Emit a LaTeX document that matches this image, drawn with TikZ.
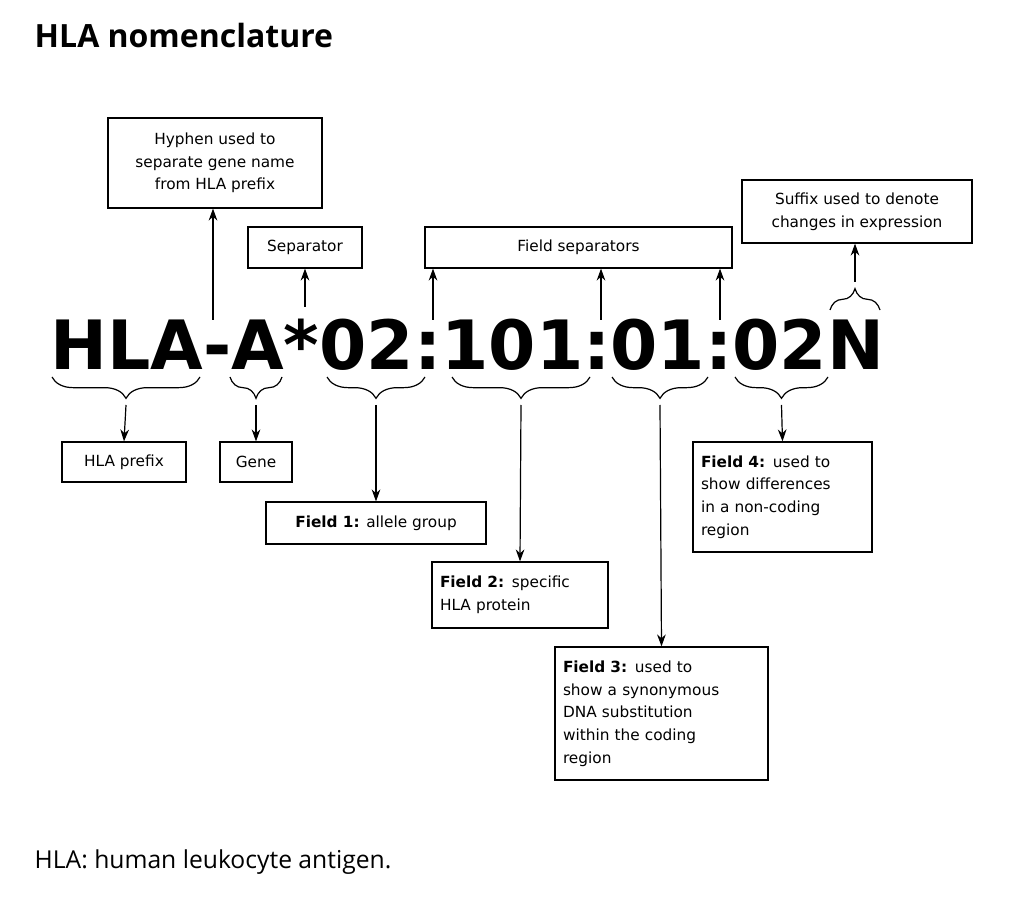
\documentclass[tikz,border=0pt]{standalone}
\usepackage{fontspec}
\setmainfont{DejaVu Sans}
\newfontfamily\opensans{Open Sans}
\usetikzlibrary{decorations.pathreplacing,arrows.meta}
\begin{document}
\begin{tikzpicture}[x=0.75pt,y=-0.75pt,
  box/.style={draw,line width=0.9pt,font=\fontsize{11.5}{17}\selectfont,inner sep=3pt},
  lbox/.style={box,align=left,inner xsep=6pt},
  cbox/.style={box,align=center},
  arr/.style={-{Stealth[length=9pt,width=6.5pt]},line width=0.9pt},
  br/.style={decorate,decoration={brace,amplitude=16pt},line width=0.9pt}]
\useasboundingbox (0,0) rectangle (1025,905);
\node[anchor=base west,font=\opensans\bfseries\fontsize{24}{28}\selectfont] (title) at (30,48) {HLA nomenclature};
\node[anchor=base west,font=\opensans\fontsize{18.5}{22}\selectfont] (cap) at (30,868) {HLA: human leukocyte antigen.};
\node[anchor=base west,inner sep=0,font=\bfseries\fontsize{51}{60}\selectfont] (code) at (50,370) {HLA-A*02:101:01:02N};
% boxes
\node[cbox,minimum width=160.5pt,minimum height=67.5pt] (hyph) at (215,163) {Hyphen used to\\separate gene name\\from HLA prefix};
\node[cbox,minimum width=85.5pt,minimum height=30.75pt] (sep) at (305,247.5) {Separator};
\node[cbox,minimum width=230.25pt,minimum height=30.75pt] (fsep) at (578.5,247.5) {Field separators};
\node[cbox,minimum width=172.5pt,minimum height=47.25pt] (suf) at (857,211.5) {Suffix used to denote\\changes in expression};
\node[cbox,minimum width=93pt,minimum height=30pt] (pre) at (124,462) {HLA prefix};
\node[cbox,minimum width=54pt,minimum height=30pt] (gene) at (256,462) {Gene};
\node[cbox,minimum width=165pt,minimum height=31.5pt] (f1) at (376,523) {\textbf{Field 1:} allele group};
\node[lbox,text width=120pt,minimum height=49.5pt] (f2) at (520,595) {\textbf{Field 2:} specific\\HLA protein};
\node[lbox,text width=147.75pt,minimum height=99.75pt] (f3) at (661.5,713.5) {\textbf{Field 3:} used to\\show a synonymous\\DNA substitution\\within the coding\\region};
\node[lbox,text width=122.25pt,minimum height=82.5pt] (f4) at (782.5,497) {\textbf{Field 4:} used to\\show differences\\in a non-coding\\region};
% braces below
\draw[br] (200,377) -- (52,377) coordinate[midway,yshift=-21pt] (b1);
\draw[br] (282,377) -- (230,377) coordinate[midway,yshift=-21pt] (b2);
\draw[br] (425,377) -- (327,377) coordinate[midway,yshift=-21pt] (b3);
\draw[br] (590,377) -- (452,377) coordinate[midway,yshift=-21pt] (b4);
\draw[br] (708,377) -- (612,377) coordinate[midway,yshift=-21pt] (b5);
\draw[br] (828,377) -- (735,377) coordinate[midway,yshift=-21pt] (b6);
\draw[br] (830,310) -- (880,310) coordinate[midway,yshift=21pt] (b7);
\draw[arr] (b1) -- (pre.north);
\draw[arr] (b2) -- (gene.north);
\draw[arr] (b3) -- (f1.north);
\draw[arr] (b4) -- (f2.north);
\draw[arr] (b5) -- (f3.north);
\draw[arr] (b6) -- (f4.north);
\draw[arr] (b7) -- (suf.south -| b7);
% separator arrows
\coordinate (hy) at (213,320);
\coordinate (st) at (305,307);
\coordinate (c1) at (433,320);
\coordinate (c2) at (601,320);
\coordinate (c3) at (720,320);
\draw[arr] (hy) -- (hyph.south -| hy);
\draw[arr] (st) -- (sep.south -| st);
\draw[arr] (c1) -- (fsep.south -| c1);
\draw[arr] (c2) -- (fsep.south -| c2);
\draw[arr] (c3) -- (fsep.south -| c3);
\end{tikzpicture}
\end{document}
